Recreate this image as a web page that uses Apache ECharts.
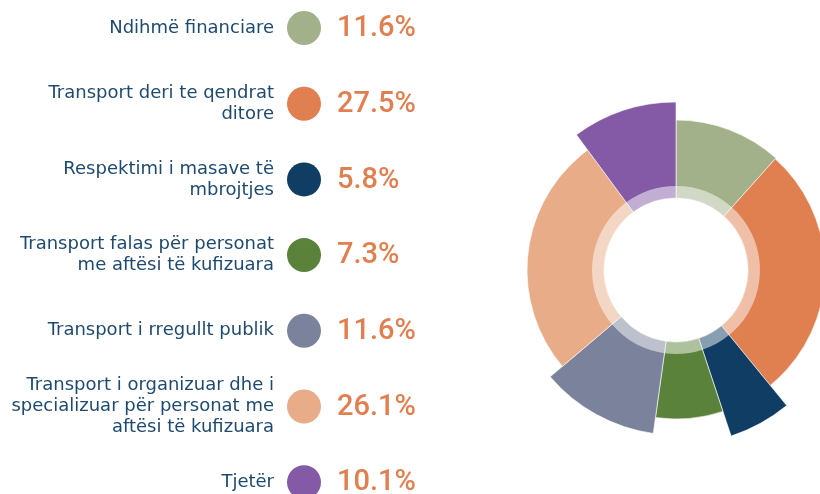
<!DOCTYPE html>
<html>
<head>
<meta charset="utf-8">
<script src="https://cdn.jsdelivr.net/npm/echarts@6/dist/echarts.min.js"></script>
<style>
    html, body { margin: 0; padding: 0; background: #fff; }
    #chart { width: 820px; height: 494px; }
</style>
</head>
<body>
<div id="chart"></div>
<script>
// categories and values
const categories = [
    'Ndihmë financiare',
    'Transport deri te qendrat\nditore',
    'Respektimi i masave të\nmbrojtjes',
    'Transport falas për personat\nme aftësi të kufizuara',
    'Transport i rregullt publik',
    'Transport i organizuar dhe i\nspecializuar për personat me\naftësi të kufizuara',
    'Tjetër'
];
const shares = [11.6, 27.5, 5.8, 7.3, 11.6, 26.1, 10.1];
// outer radius of every slice (px), as drawn in the picture
const outerRadius = [150, 149, 175, 149, 165, 149, 168];
const colors = ['#a3b18a', '#e07f50', '#103d63', '#5b823a', '#7b829c', '#e8ac89', '#845aa6'];

const center = [676, 270];
const innerR = 72;
const textColor = '#1f4a6e';
const pctColor = '#e07f50';

let chart = echarts.init(document.getElementById('chart'));

// one pie per slice so each slice can get its own outer radius
let series = shares.map((v, i) => ({
    type: 'pie',
    center: center,
    radius: [innerR, outerRadius[i]],
    startAngle: 90,
    clockwise: true,
    silent: true,
    label: { show: false },
    labelLine: { show: false },
    data: shares.map((s, j) => ({
        name: categories[j],
        value: s,
        itemStyle: j === i
            ? { color: colors[j], borderColor: '#fff', borderWidth: 0.6 }
            : { color: 'transparent', borderWidth: 0 }
    }))
}));

// light ring round the hole
series.push({
    type: 'pie',
    center: center,
    radius: [innerR, 84],
    startAngle: 90,
    silent: true,
    label: { show: false },
    labelLine: { show: false },
    itemStyle: { color: 'rgba(255,255,255,0.5)', borderWidth: 0 },
    data: shares.map((s, j) => ({ name: categories[j], value: s }))
});

// legend on the left: label, dot, percentage
let graphic = [];
categories.forEach((name, i) => {
    let y = 28 + i * 75.7;
    graphic.push({
        type: 'text',
        x: 274,
        y: y,
        style: {
            text: name,
            fill: textColor,
            font: '18px "DejaVu Sans"',
            textAlign: 'right',
            textVerticalAlign: 'middle',
            lineHeight: 21
        }
    });
    graphic.push({
        type: 'circle',
        shape: { cx: 304, cy: y, r: 17 },
        style: { fill: colors[i] }
    });
    graphic.push({
        type: 'text',
        x: 337,
        y: y + 1,
        style: {
            text: shares[i].toFixed(1) + '%',
            fill: pctColor,
            font: '500 29px Roboto',
            textAlign: 'left',
            textVerticalAlign: 'middle'
        }
    });
});

chart.setOption({
    animation: false,
    backgroundColor: '#fff',
    series: series,
    graphic: graphic
});
</script>
</body>
</html>
